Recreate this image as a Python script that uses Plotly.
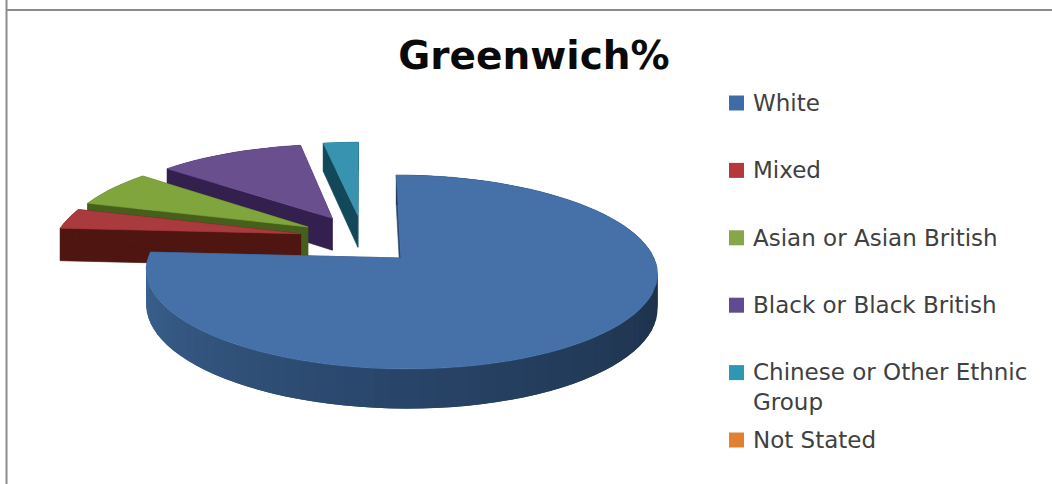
import math
import plotly.graph_objects as go

# Ethnic group shares for Greenwich, in percent
categories = ["White", "Mixed", "Asian or Asian British", "Black or Black British",
              "Chinese or Other Ethnic<br>Group", "Not Stated"]
shares = [76.0, 3.6, 6.5, 11.2, 2.7, 0.0]
top_colors = ["#4571a8", "#a93a3e", "#7fa53c", "#6a4f8e", "#3793b0", "#e08030"]
side_colors = ["#2b4a70", "#4f1511", "#46601c", "#33204f", "#12485a", "#8a4c16"]
legend_colors = ["#3d6ca8", "#b5383c", "#86a64a", "#604a90", "#2f96b4", "#e08030"]

# Projection of the tilted pie plane onto the page
APEX_X, APEX_Y = 401.0, 258.0
RADIUS_X, RADIUS_Y = 253.0, 95.0
PERSPECTIVE = 0.144
THICKNESS = 34.0
EXPLODE = 0.26
HUB = (-0.15, 0.22)  # hub of the exploded pie in plane units

# Side wall shading of the large slice, by angle clockwise from the top
WALL_STOPS = [(90, (28, 46, 70)), (180, (40, 68, 104)), (272, (60, 100, 146))]


def project(px, py, drop=0.0):
    # lines running away from the viewer converge above the hub
    scale = 1.0 / (1.0 + PERSPECTIVE * py)
    return (APEX_X + RADIUS_X * (HUB[0] + (px - HUB[0]) * scale),
            APEX_Y - RADIUS_Y * py * scale + drop * scale)


def polar(deg):
    a = math.radians(deg)
    return math.sin(a), math.cos(a)


def wall_color(deg):
    if deg <= WALL_STOPS[0][0]:
        rgb = WALL_STOPS[0][1]
    elif deg >= WALL_STOPS[-1][0]:
        rgb = WALL_STOPS[-1][1]
    else:
        for (d0, c0), (d1, c1) in zip(WALL_STOPS, WALL_STOPS[1:]):
            if d0 <= deg <= d1:
                t = (deg - d0) / (d1 - d0)
                rgb = tuple(c0[i] + (c1[i] - c0[i]) * t for i in range(3))
                break
    return "rgb(%d,%d,%d)" % tuple(round(v) for v in rgb)


fig = go.Figure()


def polygon(points, color, edge=0.6):
    fig.add_trace(go.Scatter(
        x=[p[0] for p in points] + [points[0][0]],
        y=[p[1] for p in points] + [points[0][1]],
        mode="lines", fill="toself", fillcolor=color,
        line=dict(color=color, width=edge),
        hoverinfo="skip", showlegend=False))


def draw_slice(index, start, end):
    mid = (start + end) / 2.0
    mx, my = polar(mid)
    if index == 0:
        ox, oy = 0.0, 0.0
    else:
        ox, oy = HUB[0] + EXPLODE * mx, HUB[1] + EXPLODE * my

    steps = max(3, int((end - start) / 3))
    angles = [start + (end - start) * i / steps for i in range(steps + 1)]
    rim = [(ox + polar(a)[0], oy + polar(a)[1]) for a in angles]

    # radial walls first, then the outer wall, then the top face
    for edge in (rim[0], rim[-1]):
        polygon([project(ox, oy), project(*edge),
                 project(*edge, THICKNESS), project(ox, oy, THICKNESS)],
                side_colors[index])
    for i in range(steps):
        color = wall_color((angles[i] + angles[i + 1]) / 2) if index == 0 else side_colors[index]
        # each strip runs into the next one so no seam shows between them
        far = rim[min(i + 2, steps)]
        polygon([project(*rim[i]), project(*rim[i + 1]), project(*far),
                 project(*far, THICKNESS), project(*rim[i + 1], THICKNESS),
                 project(*rim[i], THICKNESS)], color, edge=0)
    polygon([project(ox, oy)] + [project(*p) for p in rim], top_colors[index])


# Slice spans clockwise from the top of the pie
total = sum(shares)
spans = []
cursor = 0.0
for value in shares:
    sweep = 360.0 * value / total
    spans.append((cursor, cursor + sweep))
    cursor += sweep

# Paint from the back of the pie towards the viewer
for idx in (4, 3, 2, 1, 0):
    draw_slice(idx, *spans[idx])

# Legend rows: square swatches and left aligned labels
row_y = [103 + 67.4 * i for i in range(len(categories))]
fig.add_trace(go.Scatter(
    x=[736.5] * len(categories), y=row_y, mode="markers",
    marker=dict(symbol="square", size=15, color=legend_colors, line=dict(width=0)),
    hoverinfo="skip", showlegend=False))

annotations = []
for name, y in zip(categories, row_y):
    wrapped = "<br>" in name
    annotations.append(dict(
        x=752, y=y - 15 if wrapped else y, xref="x", yref="y",
        text=name, showarrow=False, xanchor="left",
        yanchor="top" if wrapped else "middle", align="left", borderpad=0,
        font=dict(family="DejaVu Sans", size=23, color="#404040")))

fig.update_layout(
    width=1052, height=484,
    margin=dict(l=0, r=0, t=0, b=0),
    paper_bgcolor="white", plot_bgcolor="white",
    title=dict(text="<b>Greenwich%</b>", x=534 / 1052, y=1 - 55 / 484,
               xanchor="center", yanchor="middle",
               font=dict(family="DejaVu Sans", size=39, color="#0a0a0a")),
    xaxis=dict(range=[0, 1052], visible=False, fixedrange=True),
    yaxis=dict(range=[484, 0], visible=False, fixedrange=True),
    annotations=annotations,
    shapes=[
        dict(type="line", xref="x", yref="y", x0=6.5, x1=1052, y0=10, y1=10,
             line=dict(color="#8c8c8c", width=2)),
        dict(type="line", xref="x", yref="y", x0=6.5, x1=6.5, y0=0, y1=484,
             line=dict(color="#8c8c8c", width=2)),
    ],
)

fig.write_html("out.html")
